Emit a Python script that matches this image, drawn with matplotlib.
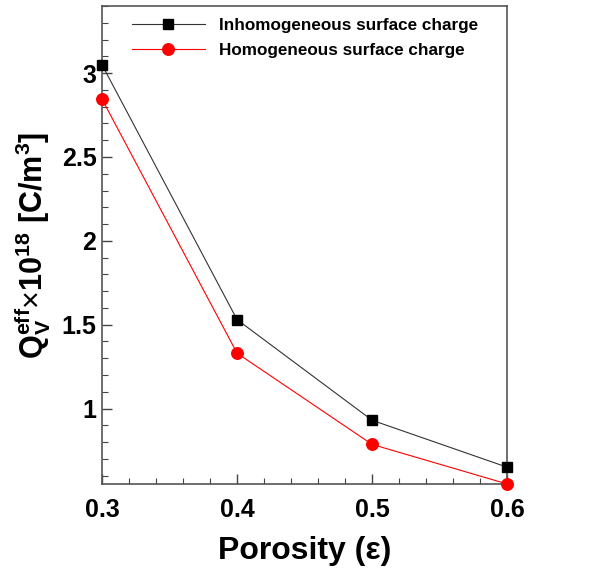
import matplotlib
matplotlib.use("Agg")
import matplotlib.pyplot as plt
from matplotlib.ticker import MultipleLocator

plt.rcParams['font.family'] = ['Liberation Sans', 'DejaVu Sans']
plt.rcParams['mathtext.fontset'] = 'custom'
plt.rcParams['mathtext.rm'] = 'Liberation Sans:bold'
plt.rcParams['mathtext.bf'] = 'Liberation Sans:bold'
plt.rcParams['mathtext.it'] = 'Liberation Sans:bold'
plt.rcParams['mathtext.sf'] = 'Liberation Sans'

porosity = [0.3, 0.4, 0.5, 0.6]
inhomogeneous = [3.05, 1.53, 0.93, 0.65]
homogeneous = [2.845, 1.33, 0.786, 0.55]
series_labels = ["Inhomogeneous surface charge", "Homogeneous surface charge"]
x_ticks = [0.3, 0.4, 0.5, 0.6]
y_ticks = [1, 1.5, 2, 2.5, 3]

fig = plt.figure(figsize=(6.13, 5.69), dpi=100)
ax = fig.add_axes([0.1664, 0.1494, 0.661, 0.840])

ax.plot(porosity, inhomogeneous, color='#333333', lw=0.8, marker='s', ms=7.5,
        mfc='black', mec='black', label=series_labels[0], clip_on=False, zorder=3)
ax.plot(porosity, homogeneous, color='red', lw=0.8, marker='o', ms=8.3,
        mfc='red', mec='red', label=series_labels[1], clip_on=False, zorder=3)

ax.set_xlim(0.3, 0.6)
ax.set_ylim(0.55, 3.4)
ax.set_xticks(x_ticks)
ax.set_xticklabels(['0.3', '0.4', '0.5', '0.6'])
ax.set_yticks(y_ticks)
ax.set_yticklabels(['1', '1.5', '2', '2.5', '3'])
ax.xaxis.set_minor_locator(MultipleLocator(0.02))
ax.yaxis.set_minor_locator(MultipleLocator(0.1))
ax.tick_params(which='both', direction='in', top=False, right=False,
               labelsize=18, colors='#444444', labelcolor='black')
ax.tick_params(which='major', length=7, width=1)
ax.tick_params(which='minor', length=4, width=0.8)
for lab in ax.get_xticklabels() + ax.get_yticklabels():
    lab.set_fontweight('bold')
ax.tick_params(axis='x', pad=10)
ax.tick_params(axis='y', pad=4)
for s in ax.spines.values():
    s.set_color('#555555')
    s.set_linewidth(1.2)

ax.set_xlabel('Porosity (ε)', fontsize=23, fontweight='bold', labelpad=10)
ax.set_ylabel(r'$\mathbf{Q_V^{eff}}$$\mathsf{\times}$$\mathbf{10^{18}}$ [C/m$^\mathbf{3}$]',
              fontsize=22, fontweight='bold', labelpad=6)

leg = ax.legend(loc='upper left', bbox_to_anchor=(0.035, 1.008), frameon=False,
                fontsize=12.3, handlelength=4.3, handletextpad=0.8,
                labelspacing=0.6, borderaxespad=0.5)
for t in leg.get_texts():
    t.set_fontweight('bold')

fig.savefig('out.png', dpi=100)
